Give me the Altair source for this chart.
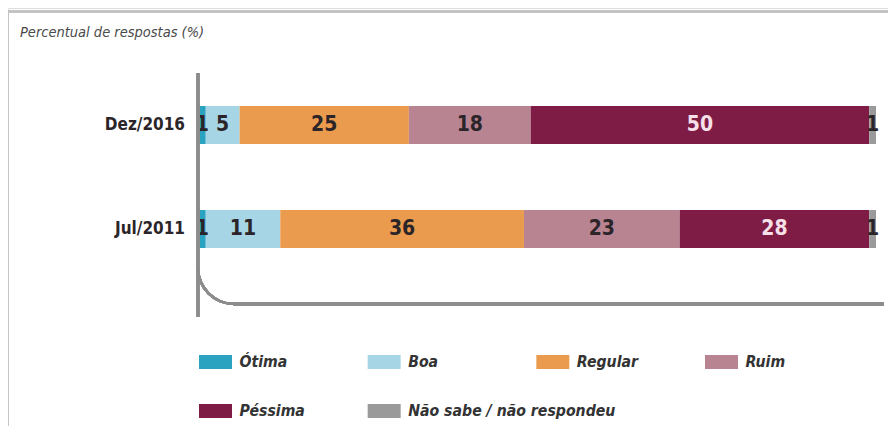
import math
import altair as alt
import pandas as pd

# ---- data -------------------------------------------------------------
periods = ["Dez/2016", "Jul/2011"]
categories = ["Ótima", "Boa", "Regular", "Ruim", "Péssima", "Não sabe / não respondeu"]
values_dez2016 = [1, 5, 25, 18, 50, 1]
values_jul2011 = [1, 11, 36, 23, 28, 1]
colors = ["#2aa3c1", "#a6d6e6", "#eb9b4d", "#b88492", "#7f1c45", "#9a9a9a"]
subtitle = "Percentual de respostas (%)"

rows = []
for p, vals in zip(periods, [values_dez2016, values_jul2011]):
    for i, (c, v) in enumerate(zip(categories, vals)):
        rows.append({"periodo": p, "categoria": c, "valor": v, "ordem": i})
df = pd.DataFrame(rows)
periods_df = pd.DataFrame({"periodo": periods})

legend_df = pd.DataFrame({
    "categoria": categories,
    "col": [i % 4 for i in range(len(categories))],
    "lin": [i // 4 for i in range(len(categories))],
})

# ---- styling ----------------------------------------------------------
W, H = 880, 418
FONT = "DejaVu Sans Condensed, Liberation Sans Narrow, sans-serif"
DARK = "#2b2529"
AXIS_GRAY = "#8c8c8c"

color_scale = alt.Scale(domain=categories, range=colors)
xs = alt.Scale(domain=[0, 100], range=[191, 868], nice=False, zero=True)
ys = alt.Scale(domain=periods, range=[98, 240], paddingInner=0.635, paddingOuter=0)

base = alt.Chart(df)

bars = base.mark_bar().encode(
    x=alt.X("valor:Q", stack="zero", scale=xs, axis=None),
    y=alt.Y("periodo:N", scale=ys, sort=periods, axis=None),
    color=alt.Color("categoria:N", scale=color_scale, legend=None),
    order=alt.Order("ordem:Q"),
)

labels = base.transform_stack(
    stack="valor", groupby=["periodo"], as_=["x0", "x1"],
    sort=[alt.SortField("ordem", order="ascending")],
).transform_calculate(
    mid="(datum.x0 + datum.x1) / 2"
).mark_text(font=FONT, fontSize=21, fontWeight="bold", baseline="middle").encode(
    x=alt.X("mid:Q", scale=xs, axis=None),
    y=alt.Y("periodo:N", scale=ys, sort=periods, axis=None),
    text=alt.Text("valor:Q"),
    color=alt.condition(alt.datum.categoria == "Péssima",
                        alt.value("#f6e0e9"), alt.value(DARK)),
)

period_labels = alt.Chart(periods_df).mark_text(
    font=FONT, fontSize=17, fontWeight="bold", color=DARK,
    align="right", baseline="middle").encode(
    x=alt.value(177),
    y=alt.Y("periodo:N", scale=ys, sort=periods, axis=None),
    text="periodo:N",
)

# axis decorations (vertical line, rounded corner, horizontal base line)
vline = alt.Chart(df).mark_rule(color=AXIS_GRAY, strokeWidth=2.5).encode(
    x=alt.value(190), y=alt.value(65), y2=alt.value(309))
corner = alt.Chart(df).mark_arc(
    color=AXIS_GRAY, theta=math.pi, theta2=1.5 * math.pi,
    radius=37.2, radius2=34.8).encode(x=alt.value(226), y=alt.value(260))
hline = alt.Chart(df).mark_rule(color=AXIS_GRAY, strokeWidth=2.5).encode(
    x=alt.value(226), x2=alt.value(876), y=alt.value(296))

# frame of the figure
frame_top = alt.Chart(df).mark_rule(color="#c4c4c4", strokeWidth=2).encode(
    x=alt.value(0), x2=alt.value(W), y=alt.value(3.5))
frame_left = alt.Chart(df).mark_rule(color="#c4c4c4", strokeWidth=2).encode(
    x=alt.value(0), y=alt.value(3.5), y2=alt.value(H))

sub = alt.Chart(pd.DataFrame({"t": [subtitle]})).mark_text(
    font=FONT, fontSize=14.5, fontStyle="italic", color="#4a4a4a",
    align="left", baseline="middle").encode(
    text="t:N", x=alt.value(12), y=alt.value(25))

# custom legend
lx = alt.Scale(domain=[0, 3], range=[207.5, 713.5])
ly = alt.Scale(domain=[0, 1], range=[354, 403])
leg_sw = alt.Chart(legend_df).mark_rect(width=33, height=14).encode(
    x=alt.X("col:Q", scale=lx, axis=None),
    y=alt.Y("lin:Q", scale=ly, axis=None),
    color=alt.Color("categoria:N", scale=color_scale, legend=None),
)
leg_tx = alt.Chart(legend_df).mark_text(
    font=FONT, fontSize=15.7, fontWeight="bold", fontStyle="italic",
    color="#333333", align="left", baseline="middle", dx=24).encode(
    x=alt.X("col:Q", scale=lx, axis=None),
    y=alt.Y("lin:Q", scale=ly, axis=None),
    text="categoria:N",
)

main = alt.layer(bars, labels, period_labels, vline, corner, hline,
                 frame_top, frame_left, sub)
legend = alt.layer(leg_sw, leg_tx)

chart = alt.layer(main, legend).resolve_scale(
    x="independent", y="independent"
).properties(
    width=W, height=H, padding=0,
    autosize=alt.AutoSizeParams(type="none"),
).configure_view(stroke=None).configure(background="white")

chart.save("out.html", embed_options={"renderer": "svg", "actions": False})
